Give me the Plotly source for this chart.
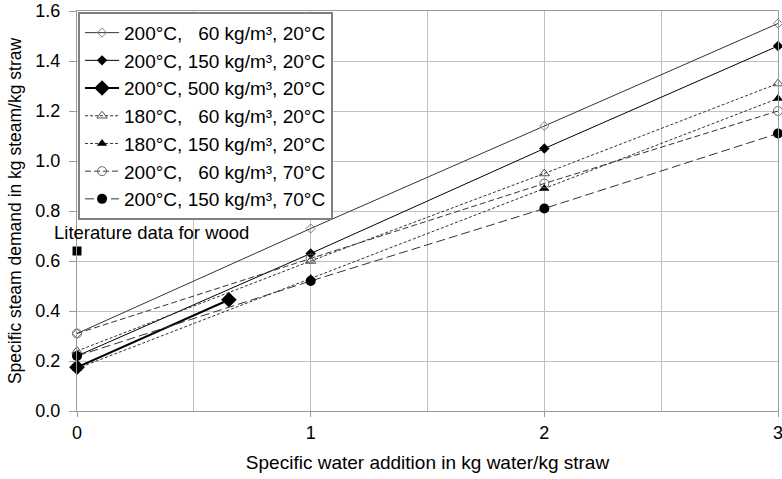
import plotly.graph_objects as go

FONT = "Liberation Sans, Arial, sans-serif"
GRID = "#c0c0c0"
AXIS = "#999999"
INK = "#000000"
LINE = "#333333"

water = [0, 1, 2, 3]
water_500 = [0, 0.65]

steam_200_60_20 = [0.31, 0.73, 1.14, 1.55]
steam_200_150_20 = [0.22, 0.63, 1.05, 1.46]
steam_200_500_20 = [0.175, 0.445]
steam_180_60_20 = [0.24, 0.60, 0.95, 1.31]
steam_180_150_20 = [0.17, 0.53, 0.89, 1.25]
steam_200_60_70 = [0.31, 0.61, 0.91, 1.20]
steam_200_150_70 = [0.22, 0.52, 0.81, 1.11]

wood_x = [0]
wood_y = [0.64]

SP = "\u00a0\u00a0"
names = [
    f"200°C, {SP}60 kg/m³, 20°C",
    "200°C, 150 kg/m³, 20°C",
    "200°C, 500 kg/m³, 20°C",
    f"180°C, {SP}60 kg/m³, 20°C",
    "180°C, 150 kg/m³, 20°C",
    f"200°C, {SP}60 kg/m³, 70°C",
    "200°C, 150 kg/m³, 70°C",
]

series = [
    (water, steam_200_60_20, dict(color=LINE, width=1, dash="solid"),
     dict(symbol="diamond-open", size=7, color="#808080", line=dict(width=1))),
    (water, steam_200_150_20, dict(color=INK, width=1, dash="solid"),
     dict(symbol="diamond", size=8, color=INK)),
    (water_500, steam_200_500_20, dict(color=INK, width=2, dash="solid"),
     dict(symbol="diamond", size=12, color=INK)),
    (water, steam_180_60_20, dict(color=LINE, width=1, dash="3px,2px"),
     dict(symbol="triangle-up-open", size=9, color="#555555", line=dict(width=1))),
    (water, steam_180_150_20, dict(color=LINE, width=1, dash="3px,2px"),
     dict(symbol="triangle-up", size=9, color=INK)),
    (water, steam_200_60_70, dict(color=LINE, width=1, dash="6px,3px"),
     dict(symbol="circle-open", size=9, color="#666666", line=dict(width=1))),
    (water, steam_200_150_70, dict(color=LINE, width=1, dash="9px,4px"),
     dict(symbol="circle", size=10, color=INK)),
]

fig = go.Figure()

for i, (xs, ys, line, marker) in enumerate(series):
    fig.add_trace(go.Scatter(
        x=xs, y=ys, name=names[i], mode="lines+markers",
        line=line, marker=marker, cliponaxis=False,
    ))

fig.add_trace(go.Scatter(
    x=wood_x, y=wood_y, mode="markers", showlegend=False,
    marker=dict(symbol="square", size=9, color=INK), cliponaxis=False,
))

fig.add_annotation(
    x=0, y=0.64, xref="x", yref="y", text="Literature data for wood",
    showarrow=False, xanchor="left", yanchor="middle",
    xshift=-25, yshift=19, font=dict(family=FONT, size=18.5, color=INK),
)

fig.update_layout(
    width=782, height=479,
    paper_bgcolor="white", plot_bgcolor="white",
    margin=dict(l=77, r=4, t=11, b=68),
    font=dict(family=FONT, size=18, color=INK),
    legend=dict(
        x=0.0015, y=0.998, xanchor="left", yanchor="top",
        bgcolor="white", bordercolor="#808080", borderwidth=2,
        font=dict(family=FONT, size=19, color=INK),
        itemwidth=34,
    ),
    xaxis=dict(
        range=[0, 3], dtick=1, tick0=0, automargin=False,
        showgrid=True, gridcolor=GRID, gridwidth=1,
        minor=dict(dtick=0.5, showgrid=True, gridcolor=GRID, gridwidth=1),
        ticks="outside", ticklen=5, tickcolor=AXIS,
        ticklabelstandoff=0, ticklabeloverflow="allow",
        showline=True, linecolor=AXIS, mirror=True, zeroline=False,
        title=dict(text="Specific water addition in kg water/kg straw",
                   font=dict(size=19), standoff=14),
    ),
    yaxis=dict(
        range=[0, 1.6], dtick=0.2, tick0=0, tickformat=".1f", automargin=False,
        showgrid=True, gridcolor=GRID, gridwidth=1,
        ticks="outside", ticklen=7, tickcolor=AXIS,
        ticklabelstandoff=5, ticklabeloverflow="allow",
        showline=True, linecolor=AXIS, mirror=True, zeroline=False,
        title=dict(text="Specific steam demand in kg steam/kg straw",
                   font=dict(size=17.5), standoff=9),
    ),
)

# drop the default page margin so the figure sits at the window corner
fig.write_html(
    "out.html",
    config={"displayModeBar": False},
    post_script="document.body.style.margin='0';document.body.style.overflow='hidden';",
)
